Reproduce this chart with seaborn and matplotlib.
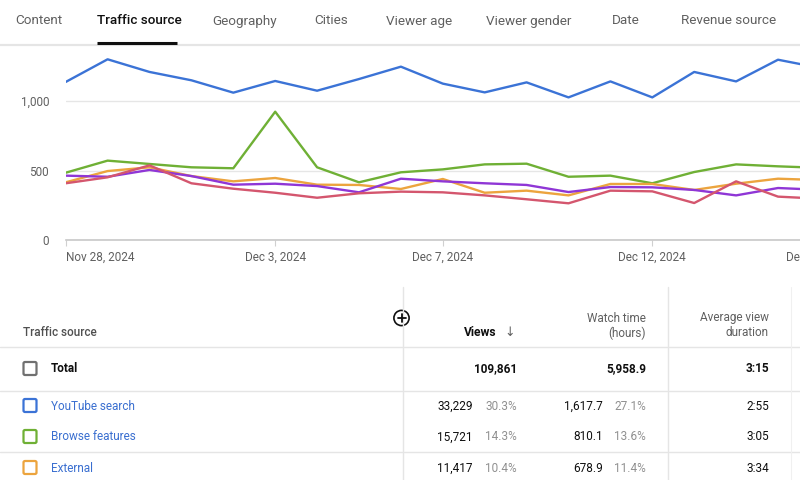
import matplotlib
matplotlib.use("Agg")
import matplotlib.pyplot as plt
import matplotlib.patches as mpatches
import seaborn as sns
import pandas as pd

# ---------------- data ----------------
dates = ["2024-11-28", "2024-11-29", "2024-11-30", "2024-12-01", "2024-12-02",
         "2024-12-03", "2024-12-04", "2024-12-05", "2024-12-06", "2024-12-07",
         "2024-12-08", "2024-12-09", "2024-12-10", "2024-12-11", "2024-12-12",
         "2024-12-13", "2024-12-14", "2024-12-15", "2024-12-16"]
youtube_search = [1137, 1300, 1209, 1149, 1060, 1144, 1074, 1158, 1247, 1125,
                  1062, 1134, 1026, 1141, 1026, 1209, 1141, 1297, 1238]
browse_features = [484, 571, 547, 523, 516, 923, 523, 415, 487, 508,
                   544, 549, 455, 463, 408, 489, 544, 530, 519]
external = [415, 496, 523, 460, 422, 446, 398, 396, 367, 439,
            340, 355, 321, 403, 403, 360, 405, 441, 431]
suggested_videos = [463, 455, 504, 460, 398, 405, 388, 343, 441, 422,
                    408, 396, 345, 381, 379, 360, 321, 374, 361]
other_features = [408, 451, 537, 408, 369, 340, 304, 336, 348, 343,
                  321, 293, 264, 355, 350, 266, 422, 312, 297]

series_names = ["YouTube search", "Browse features", "External",
                "Suggested videos", "Other YouTube features"]
series_colors = ["#3b73d6", "#6fb035", "#eca43e", "#8f36d6", "#d4566e"]

tabs = ["Content", "Traffic source", "Geography", "Cities", "Viewer age",
        "Viewer gender", "Date", "Revenue source"]
active_tab = "Traffic source"

yticks = [0, 500, 1000]
ytick_labels = ["0", "500", "1,000"]
xtick_dates = ["2024-11-28", "2024-12-03", "2024-12-07", "2024-12-12", "2024-12-16"]
xtick_labels = ["Nov 28, 2024", "Dec 3, 2024", "Dec 7, 2024", "Dec 12, 2024", "Dec 16, 2024"]

row_labels = ["Total", "YouTube search", "Browse features", "External"]
row_views = ["109,861", "33,229", "15,721", "11,417"]
row_views_pct = ["", "30.3%", "14.3%", "10.4%"]
row_watch = ["5,958.9", "1,617.7", "810.1", "678.9"]
row_watch_pct = ["", "27.1%", "13.6%", "11.4%"]
row_duration = ["3:15", "2:55", "3:05", "3:34"]
row_box_colors = ["#707070", "#3b73d6", "#6fb035", "#eca43e"]

# ---------------- style ----------------
sns.set_style("white")
plt.rcParams["font.family"] = ["Roboto", "DejaVu Sans"]

W, H = 800, 480
fig = plt.figure(figsize=(W / 100, H / 100), dpi=100)

# chart axes (pixel geometry): x0 = 65.7px, baseline y = 240px, 1400 at ~45px
px_per_day = 41.9
n_days_span = 19
ax_left = 65.7
ax_width = px_per_day * n_days_span
ax_bottom_px = 240
ax_top_px = 45.4
ax = fig.add_axes([ax_left / W, (H - ax_bottom_px) / H, ax_width / W,
                   (ax_bottom_px - ax_top_px) / H])

df = pd.DataFrame({
    "date": pd.to_datetime(dates * 5),
    "views": youtube_search + browse_features + external + suggested_videos + other_features,
    "source": sum([[n] * len(dates) for n in series_names], []),
})
sns.lineplot(data=df, x="date", y="views", hue="source", hue_order=series_names,
             palette=series_colors, linewidth=1.7, legend=False, ax=ax)

start = pd.Timestamp(dates[0])
ax.set_xlim(start, start + pd.Timedelta(days=n_days_span))
ax.set_ylim(0, 1400)
ax.set_yticks(yticks)
ax.set_yticklabels(ytick_labels)
ax.set_xticks(pd.to_datetime(xtick_dates))
ax.set_xticklabels(xtick_labels)
ax.xaxis.get_ticklabels()[0].set_horizontalalignment("left")
ax.set_xlabel("")
ax.set_ylabel("")
for s in ["top", "right", "left"]:
    ax.spines[s].set_visible(False)
ax.spines["bottom"].set_color("#c8c8c8")
ax.spines["bottom"].set_linewidth(1.2)
ax.yaxis.grid(True, color="#e6e6e6", linewidth=1.0)
ax.set_axisbelow(True)
ax.tick_params(axis="y", length=0, pad=12, labelsize=8.5, labelcolor="#606060")
ax.tick_params(axis="x", length=4, width=0.8, color="#d0d0d0", pad=4,
               labelsize=8.5, labelcolor="#606060", bottom=True)

# overlay axes in pixel coordinates
ov = fig.add_axes([0, 0, 1, 1], zorder=5)
ov.set_xlim(0, W)
ov.set_ylim(H, 0)
ov.axis("off")

# tabs
tab_x = [15, 97, 212, 314, 386, 486, 612, 681]
for t, x in zip(tabs, tab_x):
    ov.text(x, 21, t, fontsize=9.7, va="center", ha="left",
            color="#0f0f0f" if t == active_tab else "#606060",
            fontweight="medium" if t == active_tab else "normal")
ov.add_line(plt.Line2D([0, W], [45.2, 45.2], color="#e5e5e5", lw=1.6))
ov.add_line(plt.Line2D([97, 177], [43, 43], color="#0f0f0f", lw=2.2,
                       solid_capstyle="butt"))

# table grid lines
grid_c = "#e5e5e5"
ov.add_line(plt.Line2D([0, W], [347, 347], color=grid_c, lw=1.0))
ov.add_line(plt.Line2D([0, W], [391, 391], color=grid_c, lw=1.0))
ov.add_line(plt.Line2D([0, W], [452, 452], color=grid_c, lw=1.0))
ov.add_line(plt.Line2D([403, 403], [287, H], color=grid_c, lw=1.0))
ov.add_line(plt.Line2D([668, 668], [287, H], color=grid_c, lw=1.0))
ov.add_line(plt.Line2D([791, 791], [287, H], color="#f0f0f0", lw=0.8))

# header
hdr_c = "#606060"
hfs = 8.5
ov.text(23, 333, "Traffic source", fontsize=hfs, va="center", ha="left",
        color="#505050", fontweight="medium")
ov.add_patch(mpatches.Circle((401.5, 318), 7.6, facecolor="white",
                             edgecolor="#0f0f0f", lw=1.2))
ov.add_line(plt.Line2D([397.5, 405.5], [318, 318], color="#0f0f0f", lw=1.3))
ov.add_line(plt.Line2D([401.5, 401.5], [314, 322], color="#0f0f0f", lw=1.3))
ov.text(497, 333, "Views", fontsize=8.7, va="center", ha="right",
        color="#0f0f0f", fontweight="bold")
ov.text(510, 333, "↓", fontsize=9, va="center", ha="center", color="#606060",
        family=["DejaVu Sans"])
ov.text(646, 318, "Watch time", fontsize=hfs, va="center", ha="right", color=hdr_c)
ov.text(646, 333, "(hours)", fontsize=hfs, va="center", ha="right", color=hdr_c)
ov.text(769, 318, "Average view", fontsize=hfs, va="center", ha="right", color=hdr_c)
ov.text(769, 333, "duration", fontsize=hfs, va="center", ha="right", color=hdr_c)

# rows
rfs = 8.5
row_y = [369, 406, 437, 468]
for i, y in enumerate(row_y):
    total = i == 0
    ov.add_patch(mpatches.FancyBboxPatch((23.5, y - 7), 13, 13,
                                         boxstyle="round,pad=0,rounding_size=1.5",
                                         facecolor="white", edgecolor=row_box_colors[i],
                                         lw=1.6))
    ov.text(51, y, row_labels[i], fontsize=rfs, va="center", ha="left",
            color="#0f0f0f" if total else "#3a6fd0",
            fontweight="bold" if total else "normal")
    if total:
        ov.text(517, y, row_views[i], fontsize=rfs, va="center", ha="right",
                color="#0f0f0f", fontweight="bold")
        ov.text(646, y, row_watch[i], fontsize=rfs, va="center", ha="right",
                color="#0f0f0f", fontweight="bold")
        ov.text(769, y, row_duration[i], fontsize=rfs, va="center", ha="right",
                color="#0f0f0f", fontweight="bold")
    else:
        ov.text(473, y, row_views[i], fontsize=rfs, va="center", ha="right",
                color="#0f0f0f")
        ov.text(517, y, row_views_pct[i], fontsize=rfs, va="center", ha="right",
                color="#909090")
        ov.text(603, y, row_watch[i], fontsize=rfs, va="center", ha="right",
                color="#0f0f0f")
        ov.text(646, y, row_watch_pct[i], fontsize=rfs, va="center", ha="right",
                color="#909090")
        ov.text(769, y, row_duration[i], fontsize=rfs, va="center", ha="right",
                color="#0f0f0f")

fig.savefig("out.png", dpi=100)
